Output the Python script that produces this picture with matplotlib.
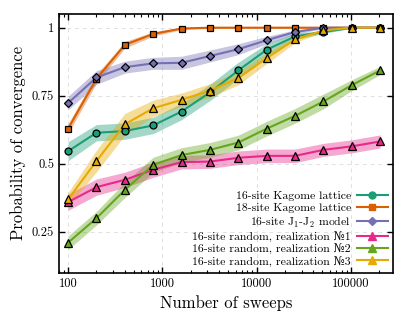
import matplotlib
matplotlib.use("Agg")
import matplotlib.pyplot as plt
from matplotlib.lines import Line2D
from matplotlib.ticker import FixedLocator, FuncFormatter, LogLocator, NullFormatter
import numpy as np

plt.rcParams['font.family'] = ['cmr10', 'DejaVu Serif']
plt.rcParams['mathtext.fontset'] = 'cm'
plt.rcParams['axes.unicode_minus'] = False
plt.rcParams['axes.formatter.use_mathtext'] = True

sweeps = [100, 200, 400, 800, 1600, 3200, 6400, 12800, 25600, 51200, 102400, 204800]

kagome16 = [0.546, 0.614, 0.620, 0.641, 0.692, 0.762, 0.843, 0.919, 0.968, 0.984, 1.0, 1.0]
kagome16_err = [0.035, 0.03, 0.03, 0.03, 0.03, 0.03, 0.03, 0.022, 0.012, 0.005, 0.002, 0.002]

kagome18 = [0.629, 0.812, 0.937, 0.977, 0.997, 1.0, 1.0, 1.0, 1.0, 1.0, 1.0, 1.0]
kagome18_err = [0.018, 0.016, 0.012, 0.008, 0.004, 0.003, 0.002, 0.002, 0.002, 0.002, 0.002, 0.002]

j1j2 = [0.723, 0.817, 0.855, 0.869, 0.871, 0.896, 0.921, 0.954, 0.984, 1.0, 1.0, 1.0]
j1j2_err = [0.025, 0.025, 0.022, 0.022, 0.024, 0.022, 0.02, 0.014, 0.008, 0.003, 0.002, 0.002]

rand1 = [0.359, 0.414, 0.441, 0.478, 0.506, 0.508, 0.522, 0.529, 0.529, 0.551, 0.564, 0.582]
rand1_err = [0.03, 0.03, 0.028, 0.028, 0.025, 0.025, 0.025, 0.025, 0.025, 0.024, 0.024, 0.024]

rand2 = [0.210, 0.300, 0.404, 0.496, 0.532, 0.551, 0.578, 0.629, 0.676, 0.729, 0.789, 0.843]
rand2_err = [0.025, 0.025, 0.028, 0.028, 0.027, 0.027, 0.027, 0.027, 0.027, 0.027, 0.02, 0.015]

rand3 = [0.369, 0.510, 0.645, 0.704, 0.735, 0.769, 0.815, 0.888, 0.957, 0.990, 1.0, 1.0]
rand3_err = [0.025, 0.04, 0.04, 0.03, 0.025, 0.025, 0.025, 0.02, 0.012, 0.005, 0.002, 0.002]

labels = ["16-site Kagome lattice", "18-site Kagome lattice", "16-site J$_1$-J$_2$ model",
          "16-site random, realization №1", "16-site random, realization №2",
          "16-site random, realization №3"]

series = [kagome16, kagome18, j1j2, rand1, rand2, rand3]
errors = [kagome16_err, kagome18_err, j1j2_err, rand1_err, rand2_err, rand3_err]
colors = ["#1b9e77", "#d95f02", "#7570b3", "#e7298a", "#66a61e", "#e6ab02"]
markers = ["o", "s", "D", "^", "^", "^"]
msizes = [5, 5, 4.3, 5.3, 5.3, 5.3]

fig = plt.figure(figsize=(4.15, 3.13), dpi=100)
ax = fig.add_axes([0.142, 0.129, 0.806, 0.826])

x = np.array(sweeps)
for y, e, c, m, ms in zip(series, errors, colors, markers, msizes):
    y = np.array(y); e = np.array(e)
    ax.fill_between(x, y - e, y + e, color=c, alpha=0.4, lw=0, zorder=1)
    ax.plot(x, y, color=c, lw=1.5, zorder=2)
    ax.plot(x, y, ls='none', marker=m, ms=ms, mfc=c, mec='black', mew=0.9, zorder=3)

ax.set_xscale('log')
ax.set_xlim(80, 283000)
ax.set_ylim(0.1, 1.05)

ax.xaxis.set_major_locator(FixedLocator([100, 1000, 10000, 100000]))
ax.xaxis.set_major_formatter(FuncFormatter(lambda v, p: f"{int(round(v))}"))
ax.xaxis.set_minor_locator(LogLocator(base=10, subs=np.arange(2, 10), numticks=20))
ax.xaxis.set_minor_formatter(NullFormatter())
ax.yaxis.set_major_locator(FixedLocator([0.25, 0.5, 0.75, 1.0]))
ax.yaxis.set_major_formatter(FuncFormatter(lambda v, p: {0.25: "0.25", 0.5: "0.5", 0.75: "0.75", 1.0: "1"}.get(round(v, 2), "")))

ax.tick_params(which='both', direction='in', top=True, right=True, labelsize=9)
ax.tick_params(which='major', length=4, width=1)
ax.tick_params(which='minor', length=2.5, width=0.8)
for s in ax.spines.values():
    s.set_linewidth(1.2)
ax.grid(True, which='major', ls=(0, (4, 4)), color='#e0e0e0', lw=0.7)
ax.set_axisbelow(True)

ax.set_xlabel("Number of sweeps", fontsize=12)
ax.set_ylabel("Probability of convergence", fontsize=12)

handles = [Line2D([0], [0], color=c, lw=1.5, marker=m, ms=ms, mfc=c, mec=c)
           for c, m, ms in zip(colors, markers, msizes)]
ax.legend(handles, labels, loc='lower right', frameon=False, markerfirst=False,
          fontsize=8.5, labelspacing=0.12, handlelength=2.6, handletextpad=0.5,
          borderaxespad=0.3, borderpad=0.2)

fig.savefig("out.png", dpi=100)
